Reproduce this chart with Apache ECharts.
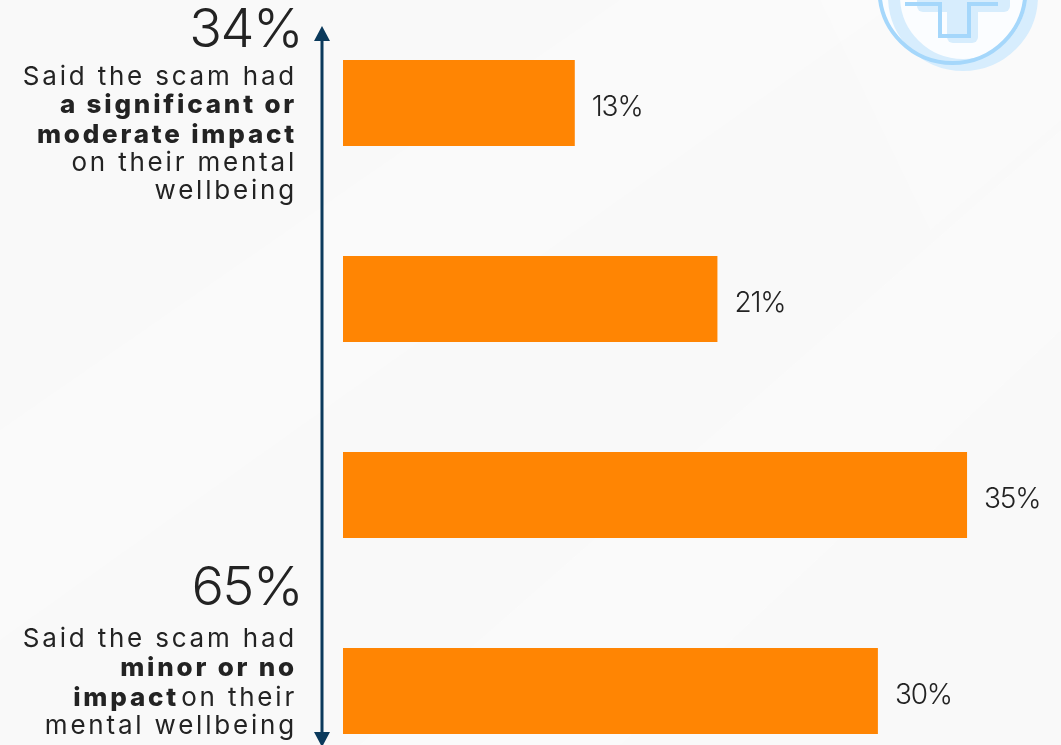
<!DOCTYPE html>
<html>
<head>
<meta charset="utf-8">
<style>html,body{margin:0;padding:0;background:#f9f9f9;overflow:hidden}#c{width:1061px;height:745px}</style>
<script src="https://cdn.jsdelivr.net/npm/echarts@6/dist/echarts.min.js"></script>
</head>
<body>
<div id="c"></div>
<script>
// Survey responses, one bar per impact level (top to bottom)
const categories = ['Significant impact', 'Moderate impact', 'Minor impact', 'No impact'];
const shares = [13, 21, 35, 30];
const topTotal = '34%';
const bottomTotal = '65%';

const FONT = 'Inter, "Open Sans", sans-serif';
const INK = '#232323';
const NAVY = '#0b3a5c';
const ORANGE = '#ff8503';
const SKY = '#a5d7fb';
const SKY_SOFT = '#d7edfd';
const TEXT_RIGHT = 297;

const chart = echarts.init(document.getElementById('c'), null, { renderer: 'canvas' });

// Separate canvas layers carry the different letter-spacings
const painter = chart.getZr().painter;
painter.getLayer(5).ctx.letterSpacing = '2.8px';
painter.getLayer(6).ctx.letterSpacing = '-1.2px';
painter.getLayer(7).ctx.letterSpacing = '-1.5px';

function caption(text, y, bold, right) {
  return {
    type: 'text', zlevel: 5, silent: true,
    style: {
      text, x: right === undefined ? TEXT_RIGHT : right, y,
      align: 'right', verticalAlign: 'middle',
      font: (bold ? '800 ' : '400 ') + '26px ' + FONT, fill: INK
    }
  };
}
function total(text, y) {
  return {
    type: 'text', zlevel: 7, silent: true,
    style: { text, x: 302, y, align: 'right', verticalAlign: 'middle', font: '300 54px ' + FONT, fill: INK }
  };
}
function band(points, opacity) {
  return { type: 'polygon', silent: true, z: -10, shape: { points }, style: { fill: '#ffffff', opacity } };
}

const graphic = [
  // faint diagonal sheen behind everything
  band([[0, 430], [620, 0], [900, 0], [0, 640]], 0.18),
  band([[360, 745], [1061, 130], [1061, 330], [620, 745]], 0.25),
  band([[820, 0], [1061, 0], [1061, 120], [930, 230]], 0.18),

  // medical badge clipped by the top edge
  { type: 'circle', silent: true, shape: { cx: 952.5, cy: -10, r: 75 }, style: { fill: '#fbfdff' } },
  { type: 'circle', silent: true, shape: { cx: 963, cy: -4, r: 69 }, style: { fill: 'none', stroke: SKY_SOFT, lineWidth: 12 } },
  { type: 'circle', silent: true, shape: { cx: 952.5, cy: -10, r: 73 }, style: { fill: 'none', stroke: SKY, lineWidth: 4 } },
  { type: 'rect', silent: true, shape: { x: 947, y: -30, width: 31, height: 73, r: 6 }, style: { fill: SKY_SOFT } },
  { type: 'rect', silent: true, shape: { x: 917, y: -30, width: 93, height: 42, r: 6 }, style: { fill: SKY_SOFT } },
  { type: 'polyline', silent: true, shape: { points: [[905, 4], [940, 4], [940, 36], [969, 36], [969, 4], [998, 4]] }, style: { stroke: SKY, lineWidth: 4, fill: 'none' } },

  // two-headed axis arrow
  { type: 'line', silent: true, shape: { x1: 322, y1: 36, x2: 322, y2: 736 }, style: { stroke: NAVY, lineWidth: 3 } },
  { type: 'polygon', silent: true, shape: { points: [[322, 26], [330, 41], [314, 41]] }, style: { fill: NAVY } },
  { type: 'polygon', silent: true, shape: { points: [[314, 732], [330, 732], [322, 747]] }, style: { fill: NAVY } },

  total(topTotal, 31),
  caption('Said the scam had', 77),
  caption('a significant or', 105, true),
  caption('moderate impact', 135, true),
  caption('on their mental', 163),
  caption('wellbeing', 191),

  total(bottomTotal, 589),
  caption('Said the scam had', 639),
  caption('minor or no', 668, true),
  caption('impact', 698, true, 179),
  caption('on their', 698),
  caption('mental wellbeing', 726)
];

chart.setOption({
  animation: false,
  backgroundColor: '#f9f9f9',
  grid: { left: 343, top: 5, width: 713.2, height: 784, outerBoundsMode: 'none' },
  xAxis: { type: 'value', min: 0, max: 40, show: false },
  yAxis: { type: 'category', inverse: true, data: categories, show: false },
  graphic,
  series: [{
    type: 'bar',
    zlevel: 6,
    data: shares,
    barWidth: 86,
    itemStyle: { color: ORANGE },
    label: {
      show: true, position: 'right', distance: 17, offset: [0, 5],
      formatter: p => p.value + '%',
      fontFamily: FONT, fontSize: 28, fontWeight: 300, color: INK
    }
  }]
});
</script>
</body>
</html>
